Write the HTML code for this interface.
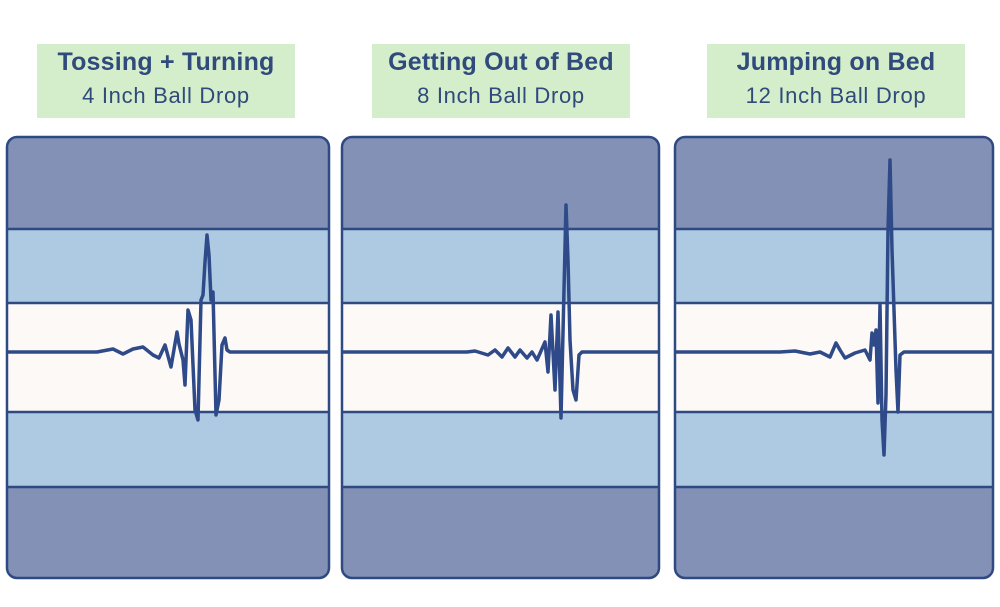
<!DOCTYPE html>
<html><head><meta charset="utf-8"><style>
body{margin:0;background:#fff;width:1000px;height:607px;overflow:hidden;font-family:"Liberation Sans",sans-serif}
.t{position:absolute;background:#d4eecb;color:#2f4a7b;text-align:center}
.t b{display:block;font-size:25px;margin-top:4px;letter-spacing:0.2px}
.t span{display:block;font-size:22px;margin-top:6px;letter-spacing:0.7px}
</style></head><body>
<div class="t" style="left:37px;top:44px;width:258px;height:74px"><b>Tossing + Turning</b><span>4 Inch Ball Drop</span></div>
<div class="t" style="left:372px;top:44px;width:258px;height:74px"><b>Getting Out of Bed</b><span>8 Inch Ball Drop</span></div>
<div class="t" style="left:707px;top:44px;width:258px;height:74px"><b>Jumping on Bed</b><span>12 Inch Ball Drop</span></div>
<svg id="s" width="1000" height="607" style="position:absolute;left:0;top:0"></svg>
<script>
const t1=[0,90,106,116,126,136,146,152,158,164,170,172,176,178,181,184,188,191,194,196,198,200,202,204,206,209,212,215,218,220,223,322];
const v1=[0,0,3,-2,3,5,-3,-6,7,-15,20,8,-8,-33,42,32,-58,-68,52,57,90,117,97,52,60,-63,-48,7,14,2,0,0];
const t2=[0,125,133,146,153,160,166,173,178,185,190,195,203,206,209,213,216,219,222,224,226,228,231,234,237,240,258,317];
const v2=[0,0,1,-3,2,-5,4,-5,2,-6,0,-8,10,-20,37,-38,40,-66,62,147,92,12,-38,-48,-3,0,0,0];
const t3=[0,105,120,135,145,155,161,165,170,180,190,195,197,199,201,203,205,207,209,211,213,215,217,221,223,225,229,318];
const v3=[0,0,1,-2,0,-5,9,2,-6,-1,2,-8,19,7,22,-51,47,-68,-103,-43,122,192,102,-18,-60,-3,0,0];
const panels=[{x:7,w:322,t:t1,v:v1,n:'tossing'},{x:342,w:317,t:t2,v:v2,n:'getting-out'},{x:675,w:318,t:t3,v:v3,n:'jumping'}];
const s=document.getElementById('s');const NS='http://www.w3.org/2000/svg';
function mk(tag,a){const e=document.createElementNS(NS,tag);for(const k in a)e.setAttribute(k,a[k]);s.appendChild(e);return e;}
const cy=352;const yS=v=>cy-v;
panels.forEach(p=>{
 const x0=p.x,x1=p.x+p.w;
 let e;
 e=mk('rect',{x:x0,y:137,width:p.w,height:441,rx:10,fill:'#8291b5'});
 
 
 e=mk('rect',{x:x0,y:229,width:p.w,height:258,fill:'#aecae2'});
 
 
 e=mk('rect',{x:x0,y:303,width:p.w,height:109,fill:'#fdf9f7'});
 
 
 [229,303,412,487].forEach(y=>{e=mk('line',{x1:x0,x2:x1,y1:y,y2:y,stroke:'#2f4a82','stroke-width':2.5});
 
 });
 const pts=p.t.map((t,i)=>(x0+t)+','+yS(p.v[i])).join(' ');
 e=mk('polyline',{points:pts,fill:'none',stroke:'#2f4a88','stroke-width':3.5,'stroke-linejoin':'round'});
 
 
 e=mk('rect',{x:x0,y:137,width:p.w,height:441,rx:10,fill:'none',stroke:'#2f4a82','stroke-width':2.5});
 
 
});
</script>
</body></html>
